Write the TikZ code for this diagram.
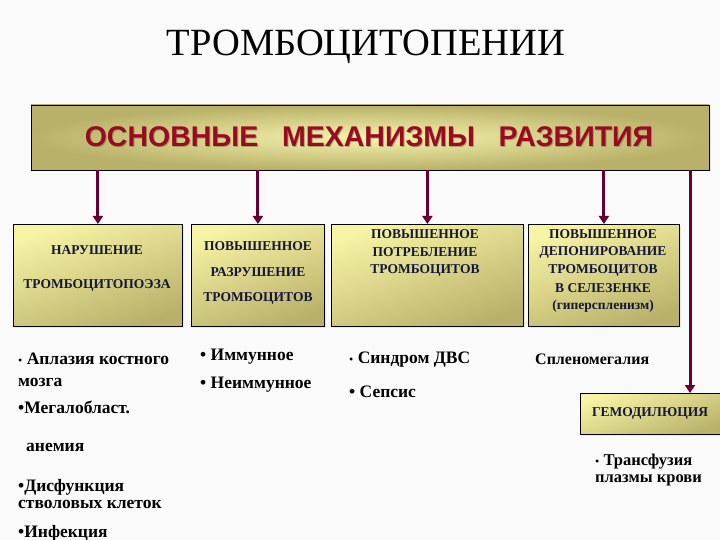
\documentclass[tikz,border=0pt]{standalone}
\usepackage{fontspec}
\setmainfont{Liberation Serif}
\setsansfont{Liberation Sans}
\usetikzlibrary{arrows.meta,shadows}
\definecolor{bg}{HTML}{FAFAFA}
\definecolor{olive}{HTML}{B9B16A}
\definecolor{lighty}{HTML}{F6F3A4}
\definecolor{maroon}{HTML}{660033}
\definecolor{redt}{HTML}{9A0A22}
\definecolor{navy}{HTML}{15153A}
\tikzset{
  box/.style={draw=black, line width=0.8pt, shading=axis, top color=lighty, bottom color=olive, shading angle=20,
              drop shadow={shadow xshift=1.5pt, shadow yshift=-1.5pt, fill=gray!30}},
  btxt/.style={font=\bfseries\fontsize{13.5}{15}\selectfont, text=navy, inner sep=0pt},
  ltxt/.style={font=\bfseries\fontsize{17.5}{19}\selectfont, text=black, anchor=west, inner sep=0pt},
  stxt/.style={ltxt, font=\bfseries\fontsize{16.5}{18}\selectfont},
  arr/.style={draw=maroon, line width=3pt, -{Triangle[width=10pt,length=8pt]}},
}
\begin{document}
\begin{tikzpicture}[x=1pt,y=-1pt]
\fill[bg] (0,0) rectangle (720,540);
\useasboundingbox (0,0) rectangle (720,540);

\node[font=\fontsize{38.5}{40}\selectfont, inner sep=0pt] (title) at (366,47) {ТРОМБОЦИТОПЕНИИ};

% main box
\path[draw=black, line width=0.8pt, inner color=lighty!90!white, outer color=olive, drop shadow={shadow xshift=1.5pt, shadow yshift=-1.5pt, fill=gray!30}]
  (31,105) rectangle (709,170);
\node[draw=none, minimum width=678pt, minimum height=65pt, inner sep=0pt, anchor=north west] (main) at (31,105) {};
\node[font=\sffamily\bfseries\fontsize{28.5}{30}\selectfont, text=olive!70!black, opacity=0.6, inner sep=0pt] at (370,138) {ОСНОВНЫЕ\ \ \ МЕХАНИЗМЫ\ \ \ РАЗВИТИЯ};
\node[font=\sffamily\bfseries\fontsize{28.5}{30}\selectfont, text=redt, inner sep=0pt] (mtext) at (369,137) {ОСНОВНЫЕ\ \ \ МЕХАНИЗМЫ\ \ \ РАЗВИТИЯ};

% second row boxes
\node[box, minimum width=169pt, minimum height=102pt, anchor=north west, inner sep=0pt] (b1) at (13,224) {};
\node[box, minimum width=133pt, minimum height=102pt, anchor=north west, inner sep=0pt] (b2) at (191,224) {};
\node[box, minimum width=192pt, minimum height=102pt, anchor=north west, inner sep=0pt] (b3) at (331,224) {};
\node[box, minimum width=151pt, minimum height=102pt, anchor=north west, inner sep=0pt] (b4) at (528,224) {};
\node[box, minimum width=144pt, minimum height=41pt, anchor=north west, inner sep=0pt] (b5) at (580,393) {};

\node[btxt] (t11) at (97,250) {НАРУШЕНИЕ};
\node[btxt] (t12) at (97,285) {ТРОМБОЦИТОПОЭЗА};
\node[btxt] (t21) at (258,246) {ПОВЫШЕННОЕ};
\node[btxt] (t22) at (258,272) {РАЗРУШЕНИЕ};
\node[btxt] (t23) at (258,298) {ТРОМБОЦИТОВ};
\node[btxt] (t31) at (425,234) {ПОВЫШЕННОЕ};
\node[btxt] (t32) at (425,252) {ПОТРЕБЛЕНИЕ};
\node[btxt] (t33) at (425,270) {ТРОМБОЦИТОВ};
\node[btxt] (t41) at (603,234) {ПОВЫШЕННОЕ};
\node[btxt] (t42) at (603,252) {ДЕПОНИРОВАНИЕ};
\node[btxt] (t43) at (603,270) {ТРОМБОЦИТОВ};
\node[btxt] (t44) at (603,288) {В СЕЛЕЗЕНКЕ};
\node[btxt] (t45) at (603,306) {(гиперспленизм)};
\node[btxt] (t51) at (650,413) {ГЕМОДИЛЮЦИЯ};

% arrows
\draw[arr] (b1.north |- main.south) -- (b1.north);
\draw[arr] (b2.north |- main.south) -- (b2.north);
\draw[arr] (b3.north |- main.south) -- (b3.north);
\draw[arr] (b4.north |- main.south) -- (b4.north);
\coordinate (rtop) at (690,170);
\draw[arr] (rtop) -- (rtop |- b5.north);

% lists
\node[ltxt] (l1) at (18,359) {{\mdseries\fontsize{12}{12}\selectfont•} Аплазия костного};
\node[ltxt] (l2) at (18,382) {мозга};
\node[ltxt] (l3) at (18,407) {•Мегалобласт.};
\node[ltxt] (l4) at (26,447) {анемия};
\node[ltxt] (l5) at (18,487) {•Дисфункция};
\node[ltxt] (l6) at (18,504) {стволовых клеток};
\node[ltxt] (l7) at (18,533) {•Инфекция};

\node[ltxt] (m1) at (200,357) {• Иммунное};
\node[ltxt] (m2) at (200,385) {• Неиммунное};

\node[ltxt] (c1) at (349,360) {{\mdseries\fontsize{12}{12}\selectfont•} Синдром ДВС};
\node[ltxt] (c2) at (349,392) {• Сепсис};

\node[stxt, font=\bfseries\fontsize{16}{18}\selectfont] (s1) at (535,359) {Спленомегалия};

\node[stxt] (g1) at (595,462) {{\mdseries\fontsize{12}{12}\selectfont•} Трансфузия};
\node[stxt] (g2) at (595,480) {плазмы крови};
\end{tikzpicture}
\end{document}
